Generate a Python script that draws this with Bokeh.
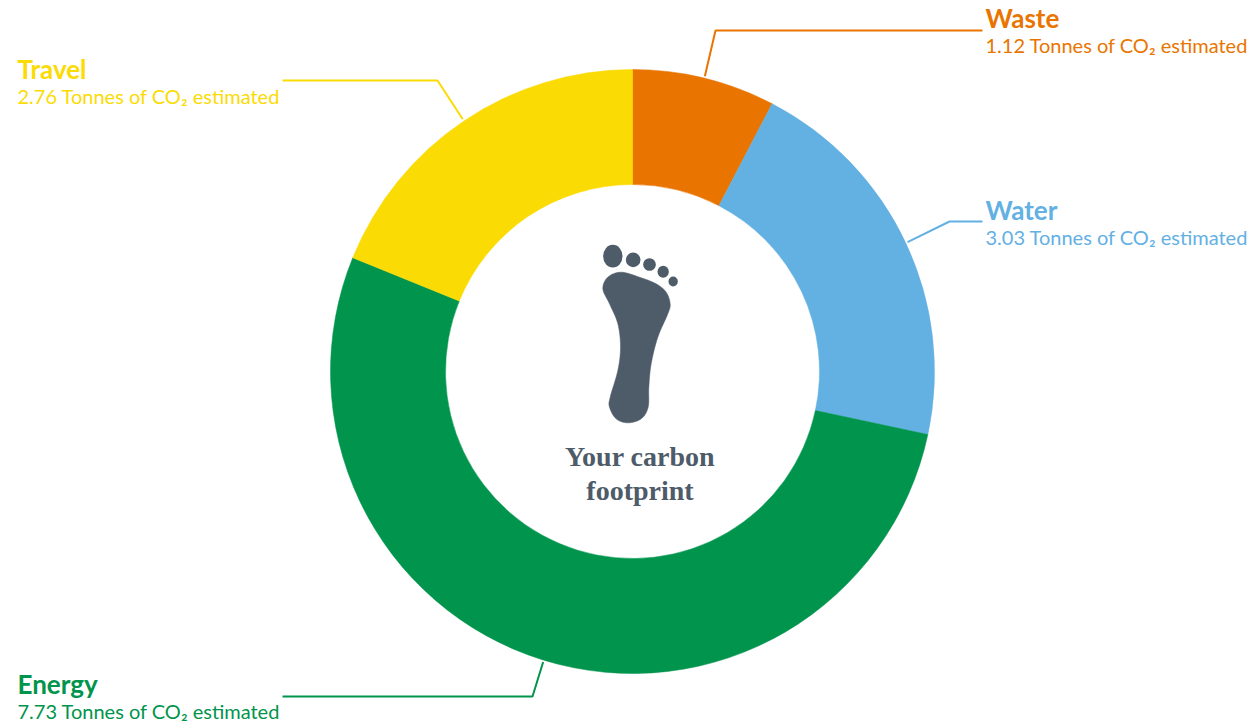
import numpy as np
from bokeh.plotting import figure
from bokeh.models import Range1d
from bokeh.core.properties import value
from bokeh.embed import file_html
from bokeh.resources import INLINE

categories = ["Waste", "Water", "Energy", "Travel"]
tonnes = [1.12, 3.03, 7.73, 2.76]
colors = ["#E97500", "#63B0E3", "#00944C", "#FBDB04"]
sub_labels = [f"{t:.2f} Tonnes of CO₂ estimated" for t in tonnes]
center_lines = ["Your carbon", "footprint"]
ink = "#4E5B68"

W, H = 1255, 728
p = figure(width=W, height=H, output_backend="svg", toolbar_location=None,
           x_range=Range1d(1, W + 1), y_range=Range1d(-H, 0),
           min_border=0, outline_line_color=None, background_fill_color="white",
           border_fill_color="white")
p.axis.visible = False
p.grid.visible = False

cx, cy, r_in, r_out = 633, -371, 187, 302
fr = np.cumsum([0] + tonnes) / sum(tonnes) * 2 * np.pi
starts = np.pi / 2 - fr[:-1]
ends = np.pi / 2 - fr[1:]
p.annular_wedge(x=[cx] * 4, y=[cy] * 4, inner_radius=r_in, outer_radius=r_out,
                start_angle=list(starts), end_angle=list(ends), direction="clock",
                fill_color=colors, line_color=colors, line_width=0.5)

mids = (fr[:-1] + fr[1:]) / 2
elbows = [((716, 30), (983, 30)), ((950, 221), (983, 221)),
          ((533, 696), (283, 696)), ((438, 80), (283, 80))]
for m, c, (e1, e2) in zip(mids, colors, elbows):
    sx, sy = cx + (r_out + 2) * np.sin(m), cy + (r_out + 2) * np.cos(m)
    p.line([sx, e1[0], e2[0]], [sy, -e1[1], -e2[1]], line_color=c, line_width=2)

title_pos = [(986, 17), (986, 209), (18, 683), (18, 68)]
for name, sub, c, (x, y) in zip(categories, sub_labels, colors, title_pos):
    p.text([x], [-y], text=[name], text_color=c, text_font=value("Lato"),
           text_font_size="26px", text_font_style="bold", text_baseline="alphabetic")
    p.text([x], [-(y + 27)], text=[sub], text_color=c, text_font=value("Lato"),
           text_font_size="20px", text_baseline="alphabetic")

for line, y in zip(center_lines, (456, 490)):
    p.text([640.5], [-y], text=[line], text_color=ink, text_font=value("Liberation Serif"),
           text_font_size="28px", text_font_style="bold",
           text_align="center", text_baseline="alphabetic")

def zx(v): return 560 + np.asarray(v, float) / 3
def zy(v): return -(220 + np.asarray(v, float) / 3)

ox = np.array([130,150,175,183,175,152,150,170,205,245,266,268,275,295,325,332,320,290,240,185,145], float)
oy = np.array([205,250,310,380,450,530,560,595,607,595,560,500,430,350,280,250,215,190,170,155,170], float)

def smooth(x, y, n=8):
    out_x, out_y = [], []
    N = len(x)
    for i in range(N):
        P = [np.array([x[(i + k) % N], y[(i + k) % N]]) for k in (-1, 0, 1, 2)]
        for t in np.linspace(0, 1, n, endpoint=False):
            v = 0.5 * (2 * P[1] + (P[2] - P[0]) * t + (2 * P[0] - 5 * P[1] + 4 * P[2] - P[3]) * t**2
                       + (3 * P[1] - P[0] - 3 * P[2] + P[3]) * t**3)
            out_x.append(v[0]); out_y.append(v[1])
    return np.array(out_x), np.array(out_y)

sx, sy = smooth(ox, oy)
p.patch(zx(sx), zy(sy), fill_color=ink, line_color=ink, line_width=0.5)
toe_x = [160, 221, 270, 311, 341]
toe_y = [107, 118, 132, 154, 183]
toe_w = [58, 44, 38, 34, 28]
toe_h = [68, 44, 38, 36, 30]
p.ellipse(zx(toe_x), zy(toe_y), width=[v / 3 for v in toe_w], height=[v / 3 for v in toe_h],
          fill_color=ink, line_color=None)

open("out.html", "w").write(file_html(p, INLINE))
